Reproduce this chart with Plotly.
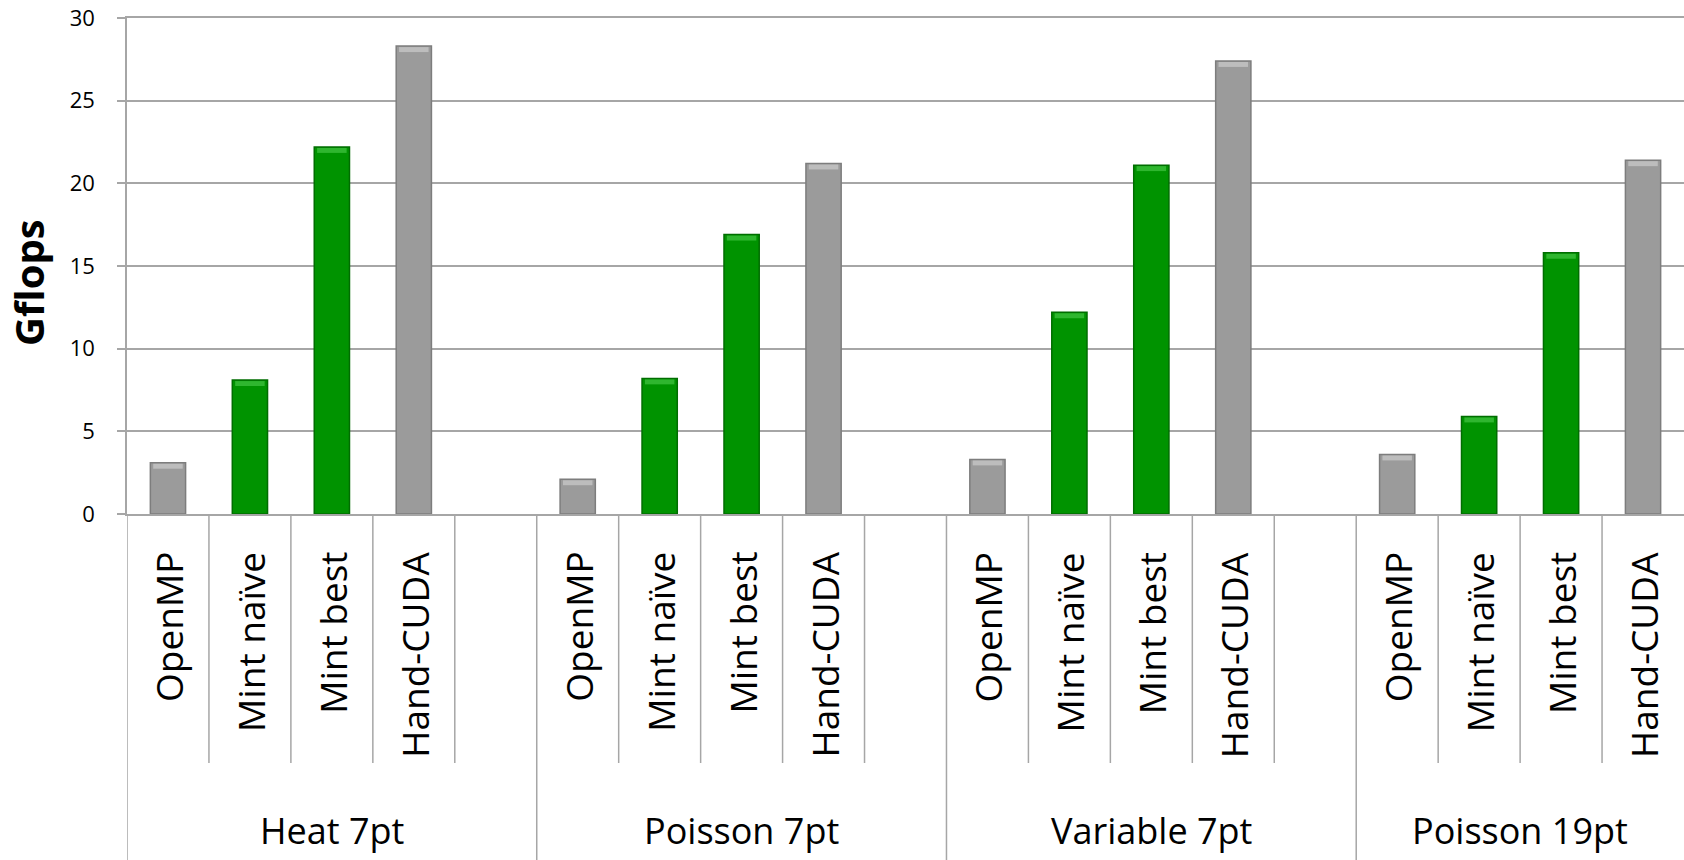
import plotly.graph_objects as go

# ---- data ----
groups = ["Heat 7pt", "Poisson 7pt", "Variable 7pt", "Poisson 19pt"]
series_names = ["OpenMP", "Mint naïve", "Mint best", "Hand-CUDA"]
openmp = [3.1, 2.1, 3.3, 3.6]
mint_naive = [8.1, 8.2, 12.2, 5.9]
mint_best = [22.2, 16.9, 21.1, 15.8]
hand_cuda = [28.3, 21.2, 27.4, 21.4]
y_ticks = [0, 5, 10, 15, 20, 25, 30]
y_title = "Gflops"

series_values = [openmp, mint_naive, mint_best, hand_cuda]
GREY = "#9b9b9b"
GREY_EDGE = "#7d7d7d"
GREY_HI = "#c8c8c8"
GREEN = "#009300"
GREEN_EDGE = "#006d00"
GREEN_HI = "#3fc23f"
series_colors = [(GREY, GREY_EDGE, GREY_HI), (GREEN, GREEN_EDGE, GREEN_HI),
                 (GREEN, GREEN_EDGE, GREEN_HI), (GREY, GREY_EDGE, GREY_HI)]

SLOTS = len(series_names) + 1          # 4 bars + a blank slot per group
n_slots = SLOTS * len(groups) - 1      # last group has no trailing blank
FONT = "Open Sans"
LINE = "#a6a6a6"

W, H = 1684, 860
ML, MT = 127, 18
PLOT_BOTTOM = 514
MB = H - PLOT_BOTTOM
plot_h = PLOT_BOTTOM - MT

fig = go.Figure()
for j, (name, vals) in enumerate(zip(series_names, series_values)):
    fill, edge, hi = series_colors[j]
    xs = [g * SLOTS + j for g in range(len(groups))]
    fig.add_trace(go.Bar(
        x=xs, y=vals, name=name, width=0.43,
        marker=dict(color=fill, line=dict(color=edge, width=1.5)),
        showlegend=False, hoverinfo="y",
    ))
    # bevel highlight at the bar top
    fig.add_trace(go.Bar(
        x=xs, y=[0.3] * len(vals), base=[v - 0.36 for v in vals], width=0.36,
        marker=dict(color=hi, line=dict(width=0), opacity=0.75),
        showlegend=False, hoverinfo="skip",
    ))

def py(px_below):
    """paper y for a pixel distance below the x axis"""
    return -px_below / plot_h

shapes = []
shapes.append(dict(type="line", xref="x", yref="paper", x0=-0.5, x1=-0.5,
                   y0=0, y1=py(H - PLOT_BOTTOM), line=dict(color=LINE, width=1.5)))
for k in range(n_slots - 1):
    xb = k + 0.5
    is_group = (k + 1) % SLOTS == 0
    y1 = py(H - PLOT_BOTTOM) if is_group else py(249)
    shapes.append(dict(type="line", xref="x", yref="paper", x0=xb, x1=xb,
                       y0=0, y1=y1, line=dict(color=LINE, width=1.5)))

annotations = []
for g, gname in enumerate(groups):
    for j, sname in enumerate(series_names):
        annotations.append(dict(
            x=g * SLOTS + j, y=0, xref="x", yref="paper", text=sname,
            textangle=-90, xanchor="center", yanchor="top", yshift=-36,
            showarrow=False, font=dict(family=FONT, size=37, color="#000000"),
        ))
    start = g * SLOTS - 0.5
    end = min(g * SLOTS + SLOTS - 0.5, n_slots - 0.5)
    annotations.append(dict(
        x=(start + end) / 2, y=0, xref="x", yref="paper", text=gname,
        xanchor="center", yanchor="middle", yshift=-316,
        showarrow=False, font=dict(family=FONT, size=36, color="#000000"),
    ))
annotations.append(dict(
    x=0, y=(PLOT_BOTTOM - 283) / plot_h, xref="paper", yref="paper", text=y_title,
    textangle=-90, xanchor="center", yanchor="middle", xshift=28 - ML,
    showarrow=False, font=dict(family=FONT, size=40, color="#000000", weight="bold"),
))

fig.update_layout(
    width=W, height=H, margin=dict(l=ML, r=0, t=MT, b=MB, pad=0),
    paper_bgcolor="white", plot_bgcolor="white", barmode="overlay",
    shapes=shapes, annotations=annotations,
    xaxis=dict(range=[-0.5, n_slots - 0.5], showticklabels=False, showgrid=False,
               zeroline=False, showline=True, mirror=True, linecolor=LINE,
               linewidth=1.5, fixedrange=True),
    yaxis=dict(range=[0, 30], tickvals=y_ticks, showgrid=True, gridcolor=LINE,
               gridwidth=1.5, zeroline=False, showline=True, linecolor=LINE,
               linewidth=1.5, ticks="outside", ticklen=8, tickcolor=LINE,
               tickwidth=1.5, ticklabelstandoff=18, ticklabeloverflow="allow",
               tickfont=dict(family=FONT, size=22, color="#000000"),
               fixedrange=True),
)

fig.write_html("out.html", config={"displayModeBar": False},
               post_script="document.body.style.margin='0px';")
